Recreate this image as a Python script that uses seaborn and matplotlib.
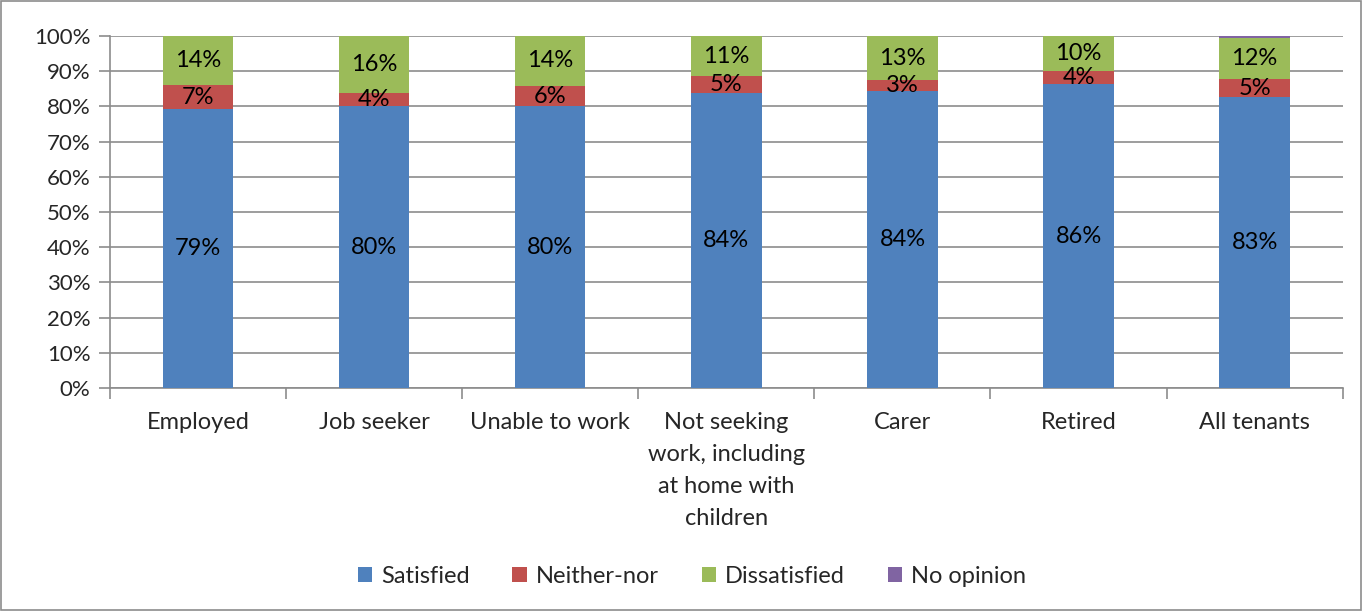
import matplotlib
matplotlib.use("Agg")
import matplotlib.pyplot as plt
import seaborn as sns
import pandas as pd
import numpy as np
from matplotlib.patches import Rectangle, Patch

categories = ["Employed", "Job seeker", "Unable to work",
              "Not seeking\nwork, including\nat home with\nchildren",
              "Carer", "Retired", "All tenants"]
satisfied = [79.3, 80.1, 80.0, 83.8, 84.4, 86.3, 82.6]
neither = [6.7, 3.7, 5.9, 4.8, 3.0, 3.9, 5.1]
dissatisfied = [14.0, 16.2, 14.1, 11.4, 12.6, 9.8, 11.8]
no_opinion = [0.0, 0.0, 0.0, 0.0, 0.0, 0.0, 0.5]
series_names = ["Satisfied", "Neither-nor", "Dissatisfied", "No opinion"]
colors = ["#4F81BD", "#C0504D", "#9BBB59", "#8064A2"]

sns.set_style("white")
plt.rcParams["font.family"] = ["Lato", "DejaVu Sans"]

fig = plt.figure(figsize=(13.62, 6.11), dpi=100)
ax = fig.add_axes([0.0808, 0.365, 0.905, 0.576])

series = [satisfied, neither, dissatisfied, no_opinion]
cum = np.cumsum(np.array(series), axis=0)
df = pd.DataFrame({"cat": categories})
for i in range(3, -1, -1):
    df["v"] = np.minimum(cum[i], 100) / 100
    sns.barplot(data=df, x="cat", y="v", color=colors[i], saturation=1,
                width=0.4, ax=ax, edgecolor="none", linewidth=0, zorder=3)

# labels
for j in range(len(categories)):
    bottom = 0
    for i in range(3):
        v = series[i][j]
        ax.text(j, (bottom + v / 2) / 100, f"{round(v)}%", ha="center",
                va="center", fontsize=17, color="black", zorder=5)
        bottom += v

ax.set_ylim(0, 1)
ax.set_xlim(-0.5, len(categories) - 0.5)
ax.set_yticks(np.arange(0, 1.01, 0.1))
ax.set_yticklabels([f"{int(round(t*100))}%" for t in np.arange(0, 1.01, 0.1)], fontsize=16)
ax.yaxis.grid(True, color="#8c8c8c", linewidth=1.2, zorder=0)
ax.set_axisbelow(True)
ax.set_xlabel("")
ax.set_ylabel("")
ax.set_xticks(range(len(categories)))
ax.set_xticklabels(categories, fontsize=17, va="top", linespacing=1.65)
ax.tick_params(axis="x", length=0, pad=17)
ax.tick_params(axis="y", length=8, color="#8c8c8c", width=1.2, left=True, pad=6)
# category boundary ticks
ax.set_xticks(np.arange(-0.5, len(categories), 1), minor=True)
ax.tick_params(axis="x", which="minor", length=8, color="#8c8c8c", width=1.2, bottom=True)
for s in ["top", "right"]:
    ax.spines[s].set_visible(False)
for s in ["left", "bottom"]:
    ax.spines[s].set_color("#8c8c8c")
    ax.spines[s].set_linewidth(1.2)

handles = [Patch(facecolor=c, edgecolor="none", label=n) for c, n in zip(colors, series_names)]
fig.legend(handles=handles, loc="center", bbox_to_anchor=(0.508, 0.057), ncol=4,
           frameon=False, fontsize=17, handlelength=0.6, handleheight=0.6,
           handletextpad=0.4, columnspacing=1.8)

fig.patches.append(Rectangle((0.001, 0.002), 0.998, 0.996, transform=fig.transFigure,
                             fill=False, edgecolor="#8c8c8c", linewidth=1.2))

fig.savefig("out.png", dpi=100)
